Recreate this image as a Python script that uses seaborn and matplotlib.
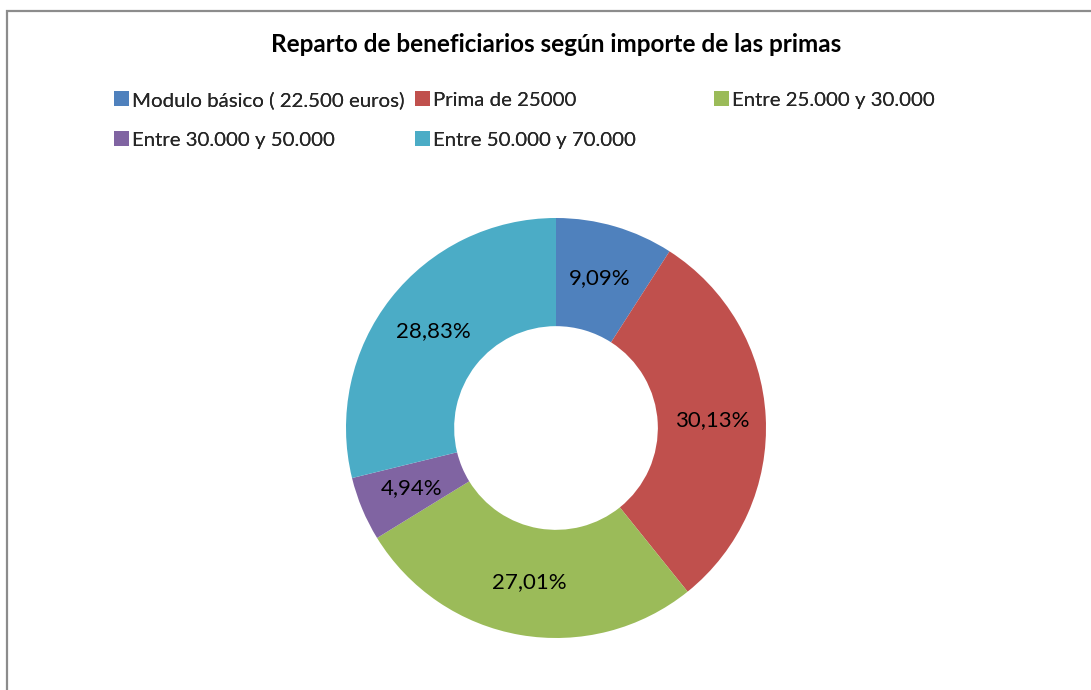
import matplotlib
matplotlib.use("Agg")
import matplotlib.pyplot as plt
from matplotlib.patches import Rectangle
import seaborn as sns

# data
categories = ["Modulo básico ( 22.500 euros)", "Prima de 25000", "Entre 25.000 y 30.000",
              "Entre 30.000 y 50.000", "Entre 50.000 y 70.000"]
shares = [9.09, 30.13, 27.01, 4.94, 28.83]
colors = ["#4F81BD", "#C0504D", "#9BBB59", "#8064A2", "#4BACC6"]

sns.set_theme(style="white")
plt.rcParams['font.family'] = ['Lato', 'DejaVu Sans']

W, H = 1091, 690
fig = plt.figure(figsize=(W / 100, H / 100), dpi=100)
fig.patch.set_facecolor("white")

# chart frame (only top and left edges show in the crop)
fig.patches.append(Rectangle((7 / W, -0.1), 1.2, 1.1 - 11 / H, transform=fig.transFigure,
                             fill=False, edgecolor="#8c8c8c", linewidth=1.6))

ax = fig.add_axes([346 / W, 52 / H, 420 / W, 420 / H])
palette = sns.color_palette(colors)
wedges, texts, autotexts = ax.pie(
    shares, colors=palette, startangle=90, counterclock=False,
    wedgeprops=dict(width=0.515, linewidth=0),
    autopct=lambda p: f"{p:.2f}%".replace(".", ","), pctdistance=0.745,
    textprops=dict(fontsize=16, color="black"))
ax.set_xlim(-1, 1)
ax.set_ylim(-1, 1)
ax.set_aspect("equal")
ax.axis("off")

fig.text(556 / W, 1 - 45 / H, "Reparto de beneficiarios según importe de las primas",
         ha="center", va="center", fontsize=17.5, fontweight="bold", color="black")

# legend entries placed on the Excel grid: 3 columns, 2 rows
col_x = [114, 415, 714]
row_y = [100, 140]
for i, (w, lab) in enumerate(zip(wedges, categories)):
    x, y = col_x[i % 3], row_y[i // 3]
    leg = fig.legend([w], [lab], loc="center left", bbox_to_anchor=(x / W, 1 - y / H),
                     frameon=False, fontsize=14.7, handlelength=0.75, handleheight=0.75,
                     handletextpad=0.12, borderaxespad=0, borderpad=0)
    fig.add_artist(leg)

fig.savefig("out.png", dpi=100)
